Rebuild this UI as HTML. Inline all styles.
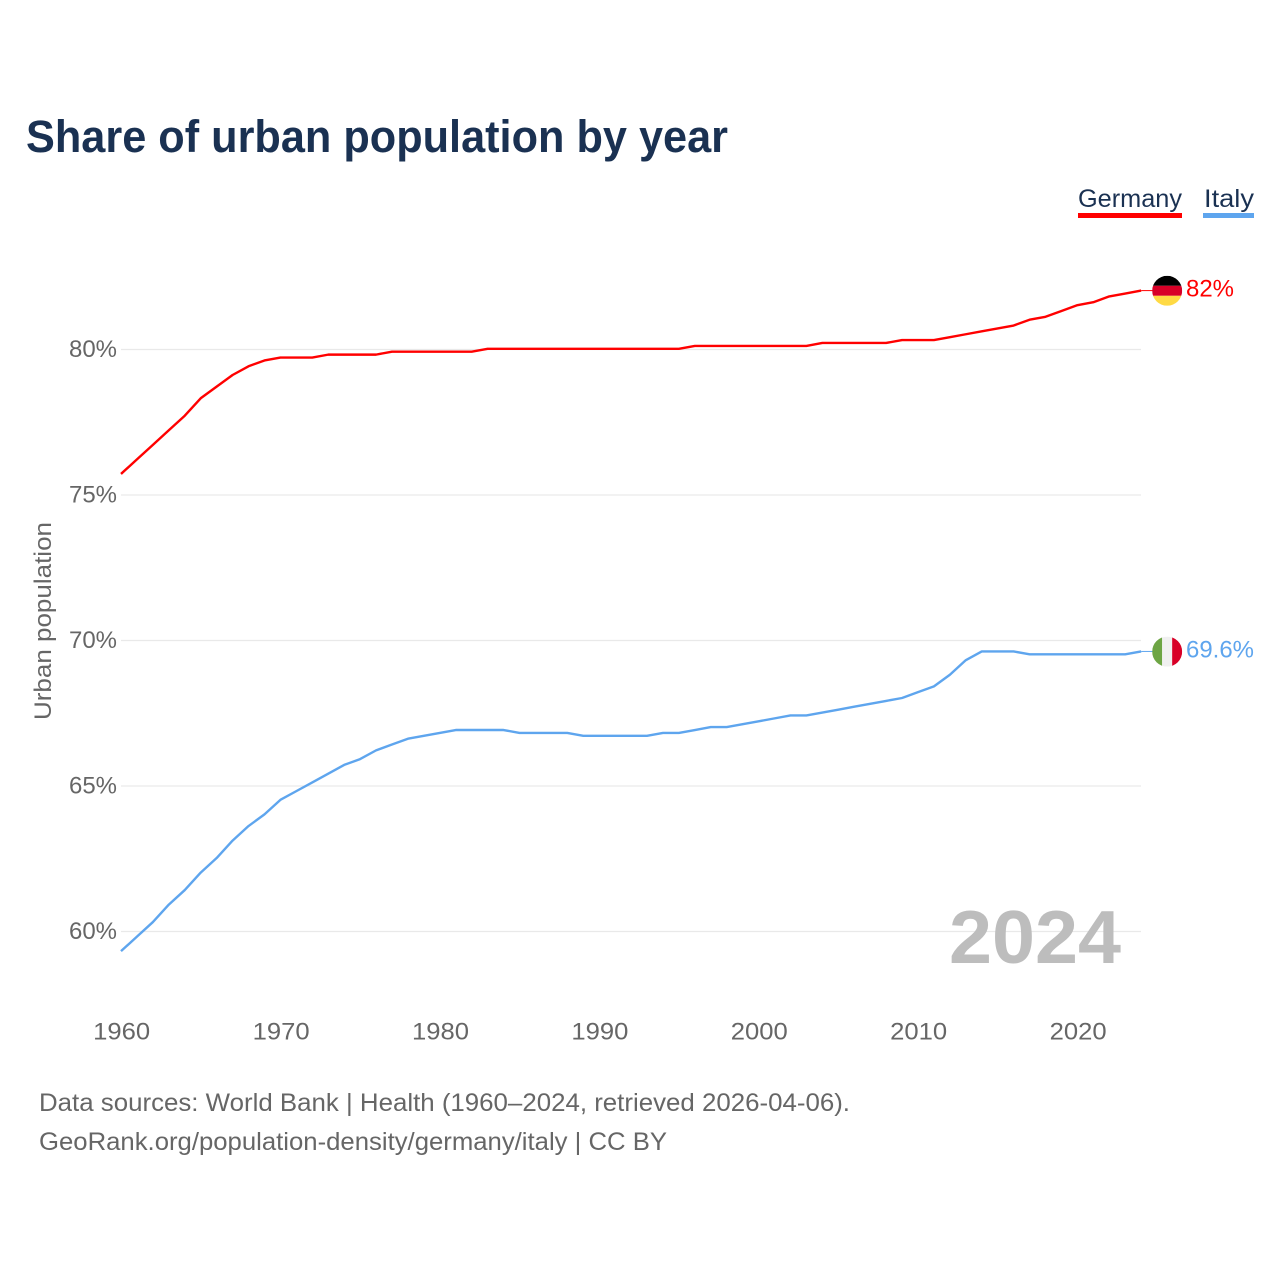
<!DOCTYPE html>
<html lang="en">
<head>
<meta charset="utf-8">
<title>Share of urban population by year</title>
<style>
html,body{margin:0;padding:0;background:#fff;width:1280px;height:1280px;overflow:hidden}
svg{display:block}
text{font-family:"Liberation Sans",Arial,sans-serif}
</style>
</head>
<body>
<svg id="chart" xmlns="http://www.w3.org/2000/svg" width="1280" height="1280" viewBox="0 0 1280 1280">
  <rect width="1280" height="1280" fill="#fff"/>
  <text x="26" y="152" font-size="45" font-weight="700" fill="#1a3152" textLength="702" lengthAdjust="spacingAndGlyphs">Share of urban population by year</text>
  <g>
    <g>
      <text x="1078" y="207" font-size="25" fill="#1a3152" textLength="104" lengthAdjust="spacingAndGlyphs">Germany</text>
      <rect x="1078" y="213" width="104" height="5" fill="#ff0000"/>
    </g>
    <g>
      <text x="1204" y="207" font-size="25" fill="#1a3152" textLength="50" lengthAdjust="spacingAndGlyphs">Italy</text>
      <rect x="1203" y="213" width="51" height="5" fill="#5ea5ee"/>
    </g>
  </g>
  <text transform="translate(51,720) rotate(-90)" font-size="24" fill="#666" textLength="198" lengthAdjust="spacingAndGlyphs">Urban population</text>
  <g id="grid"></g>
  <g id="yticks"></g>
  <g id="xticks"></g>
  <text id="year" x="1121" y="963" font-size="75" font-weight="700" fill="#bdbdbd" text-anchor="end" textLength="172" lengthAdjust="spacingAndGlyphs"></text>
  <g id="series"></g>
  <defs>
    <clipPath id="flag-clip"><circle cx="0" cy="0" r="15"/></clipPath>
  </defs>
  <g id="flag-germany">
    <g clip-path="url(#flag-clip)">
      <rect x="-15" y="-15" width="30" height="10" fill="#000"/>
      <rect x="-15" y="-5" width="30" height="10" fill="#d80027"/>
      <rect x="-15" y="5" width="30" height="10" fill="#ffda44"/>
    </g>
  </g>
  <g id="flag-italy">
    <g clip-path="url(#flag-clip)">
      <rect x="-15" y="-15" width="10" height="30" fill="#6da544"/>
      <rect x="-5" y="-15" width="10" height="30" fill="#f0f0f0"/>
      <rect x="5" y="-15" width="10" height="30" fill="#d80027"/>
    </g>
  </g>
  <text id="end-germany" x="1186" font-size="24" fill="#ff0000" textLength="48" lengthAdjust="spacingAndGlyphs"></text>
  <text id="end-italy" x="1186" font-size="24" fill="#5ea5ee" textLength="68" lengthAdjust="spacingAndGlyphs"></text>
  <g>
    <text x="39" y="1111" font-size="25" fill="#666" textLength="811" lengthAdjust="spacingAndGlyphs">Data sources: World Bank | Health (1960–2024, retrieved 2026-04-06).</text>
    <text x="39" y="1150" font-size="25" fill="#666" textLength="628" lengthAdjust="spacingAndGlyphs">GeoRank.org/population-density/germany/italy | CC BY</text>
  </g>
</svg>
<script>
var years = [1960,1961,1962,1963,1964,1965,1966,1967,1968,1969,1970,1971,1972,1973,1974,1975,1976,1977,1978,1979,1980,1981,1982,1983,1984,1985,1986,1987,1988,1989,1990,1991,1992,1993,1994,1995,1996,1997,1998,1999,2000,2001,2002,2003,2004,2005,2006,2007,2008,2009,2010,2011,2012,2013,2014,2015,2016,2017,2018,2019,2020,2021,2022,2023,2024];
var germany = [75.7,76.2,76.7,77.2,77.7,78.3,78.7,79.1,79.4,79.6,79.7,79.7,79.7,79.8,79.8,79.8,79.8,79.9,79.9,79.9,79.9,79.9,79.9,80.0,80.0,80.0,80.0,80.0,80.0,80.0,80.0,80.0,80.0,80.0,80.0,80.0,80.1,80.1,80.1,80.1,80.1,80.1,80.1,80.1,80.2,80.2,80.2,80.2,80.2,80.3,80.3,80.3,80.4,80.5,80.6,80.7,80.8,81.0,81.1,81.3,81.5,81.6,81.8,81.9,82.0];
var italy = [59.3,59.8,60.3,60.9,61.4,62.0,62.5,63.1,63.6,64.0,64.5,64.8,65.1,65.4,65.7,65.9,66.2,66.4,66.6,66.7,66.8,66.9,66.9,66.9,66.9,66.8,66.8,66.8,66.8,66.7,66.7,66.7,66.7,66.7,66.8,66.8,66.9,67.0,67.0,67.1,67.2,67.3,67.4,67.4,67.5,67.6,67.7,67.8,67.9,68.0,68.2,68.4,68.8,69.3,69.6,69.6,69.6,69.5,69.5,69.5,69.5,69.5,69.5,69.5,69.6];
var yTickValues = [60,65,70,75,80];
var xTickValues = [1960,1970,1980,1990,2000,2010,2020];

var NS = 'http://www.w3.org/2000/svg';
function xScale(year){ return 121 + (year - 1960) * 15.94; }
function yScale(v){ return 348.8 + (80 - v) * 29.1; }
function make(tag, attrs, parent){
  var el = document.createElementNS(NS, tag);
  for (var k in attrs) el.setAttribute(k, attrs[k]);
  parent.appendChild(el);
  return el;
}

var gridLayer = document.getElementById('grid');
var yLayer = document.getElementById('yticks');
var xLayer = document.getElementById('xticks');
var seriesLayer = document.getElementById('series');

yTickValues.forEach(function(v){
  var line = make('line', {x1:121, x2:1141, y1:yScale(v)+0.7, y2:yScale(v)+0.7, stroke:'#e9e9e9', 'stroke-width':1.2}, gridLayer);
  
  
  var label = make('text', {x:117, y:yScale(v)+8.4, 'font-size':24, fill:'#666', 'text-anchor':'end', textLength:48, lengthAdjust:'spacingAndGlyphs'}, yLayer);
  label.textContent = v + '%';
  
  
});

xTickValues.forEach(function(yr){
  var label = make('text', {x:xScale(yr)+0.7, y:1039.5, 'font-size':24, fill:'#666', 'text-anchor':'middle', textLength:57, lengthAdjust:'spacingAndGlyphs'}, xLayer);
  label.textContent = yr;
  
  
});

function pathFor(values){
  return values.map(function(v, i){
    return (i ? 'L' : 'M') + xScale(years[i]).toFixed(2) + ' ' + yScale(v).toFixed(2);
  }).join(' ');
}

var germanyLine = make('path', {d:pathFor(germany), fill:'none', stroke:'#ff0000', 'stroke-width':2.4, 'stroke-linejoin':'round'}, seriesLayer);


var italyLine = make('path', {d:pathFor(italy), fill:'none', stroke:'#5ea5ee', 'stroke-width':2.4, 'stroke-linejoin':'round'}, seriesLayer);



var lastX = xScale(years[years.length - 1]);
var germanyY = yScale(germany[germany.length - 1]);
var italyY = yScale(italy[italy.length - 1]);

var germanyLeader = make('line', {x1:lastX, x2:lastX + 12, y1:germanyY, y2:germanyY, stroke:'#ff0000', 'stroke-width':1}, seriesLayer);


var italyLeader = make('line', {x1:lastX, x2:lastX + 12, y1:italyY, y2:italyY, stroke:'#5ea5ee', 'stroke-width':1}, seriesLayer);



document.getElementById('flag-germany').setAttribute('transform', 'translate(' + (lastX + 26) + ',' + (germanyY + 0.2) + ')');
document.getElementById('flag-italy').setAttribute('transform', 'translate(' + (lastX + 26) + ',' + (italyY + 0.2) + ')');

var endGermany = document.getElementById('end-germany');
endGermany.setAttribute('y', germanyY + 6);
endGermany.textContent = germany[germany.length - 1] + '%';
var endItaly = document.getElementById('end-italy');
endItaly.setAttribute('y', italyY + 6);
endItaly.textContent = italy[italy.length - 1] + '%';

document.getElementById('year').textContent = years[years.length - 1];
</script>
</body>
</html>
